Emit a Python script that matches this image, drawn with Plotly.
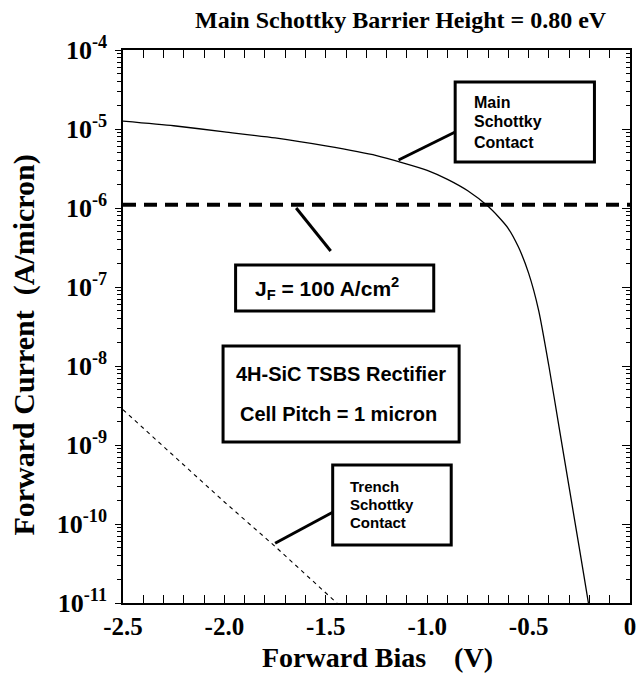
import plotly.graph_objects as go

# Forward I-V characteristics of the 4H-SiC TSBS rectifier cell
bias_main = [-2.5, -2.25, -2.0, -1.75, -1.5, -1.25, -1.0, -0.9, -0.8, -0.7, -0.65, -0.6,
             -0.55, -0.5, -0.45, -0.4, -0.35, -0.3, -0.25, -0.205, -0.19]
current_main = [1.26e-5, 1.1e-5, 9.2e-6, 7.7e-6, 6.1e-6, 4.6e-6, 3.0e-6, 2.3e-6,
                1.65e-6, 1.05e-6, 7.8e-7, 5.5e-7, 3.2e-7, 1.5e-7, 5.0e-8, 1.0e-8,
                1.7e-9, 2.9e-10, 5.0e-11, 1.0e-11, 6.0e-12]

bias_trench = [-2.5, -2.25, -2.0, -1.75, -1.5, -1.4]
current_trench = [2.8e-9, 7.4e-10, 1.9e-10, 5.2e-11, 1.35e-11, 7.8e-12]

# On-state current density level J_F = 100 A/cm^2
jf_level = 1.1e-6
bias_span = [-2.5, 0.0]

x_tickvals = [-2.5, -2.0, -1.5, -1.0, -0.5, 0.0]
x_ticktext = ["-2.5", "-2.0", "-1.5", "-1.0", "-0.5", "0"]
y_exponents = [-11, -10, -9, -8, -7, -6, -5, -4]

W, H = 640, 674
L, R, T, B = 122.7, 636.0, 50.0, 603.0

serif = "Liberation Serif"
sans = "Liberation Sans"

y_tickvals = [10.0 ** e for e in y_exponents]
y_ticktext = [f"10<sup>{e}</sup>" for e in y_exponents]
y_minor = [m * 10.0 ** e for e in y_exponents[:-1] for m in range(2, 10)]

fig = go.Figure()

fig.add_trace(go.Scatter(x=bias_main, y=current_main, mode="lines",
                         line=dict(color="black", width=1.3, shape="spline", smoothing=0.6),
                         showlegend=False, hoverinfo="skip"))
fig.add_trace(go.Scatter(x=bias_trench, y=current_trench, mode="lines",
                         line=dict(color="black", width=1.1, dash="4px,4px"),
                         showlegend=False, hoverinfo="skip"))
fig.add_trace(go.Scatter(x=bias_span, y=[jf_level, jf_level], mode="lines",
                         line=dict(color="black", width=4, dash="13px,8px"),
                         showlegend=False, hoverinfo="skip"))
# empty trace so the right-hand mirror axis is drawn
fig.add_trace(go.Scatter(x=[None], y=[None], yaxis="y2", showlegend=False,
                         hoverinfo="skip"))


def px_x(p):
    return (p - L) / (R - L)


def px_y(p):
    return (B - p) / (B - T)


def box(x0, y0, x1, y1):
    fig.add_shape(type="rect", xref="paper", yref="paper",
                  x0=px_x(x0), x1=px_x(x1), y0=px_y(y1), y1=px_y(y0),
                  line=dict(color="black", width=3), fillcolor="white", layer="above")


def pointer(x0, y0, x1, y1):
    fig.add_shape(type="line", xref="paper", yref="paper",
                  x0=px_x(x0), y0=px_y(y0), x1=px_x(x1), y1=px_y(y1),
                  line=dict(color="black", width=3), layer="above")


def text(x, y, s, size, anchor="left"):
    fig.add_annotation(xref="paper", yref="paper", x=px_x(x), y=px_y(y), text=s,
                       showarrow=False, xanchor=anchor, yanchor="middle",
                       font=dict(family=sans, size=size, color="black"))


# Main Schottky contact label
box(459, 82, 600, 162)
pointer(401.7, 160, 459, 132)
for s, yy in zip(["<b>Main</b>", "<b>Schottky</b>", "<b>Contact</b>"], [102, 122, 142]):
    text(476, yy, s, 16)

# J_F label
box(236.7, 265, 437.3, 311)
pointer(298, 208, 333, 251)
text(329, 288, "<b>J<sub>F</sub> = 100 A/cm<sup>2</sup></b>", 21, "center")

# Device description
box(224, 346, 463, 442)
text(343, 374, "<b>4H-SiC TSBS Rectifier</b>", 20, "center")
text(341, 414, "<b>Cell Pitch = 1 micron</b>", 20, "center")

# Trench Schottky contact label
box(335, 465, 455, 545)
pointer(276.7, 543.3, 335, 512.3)
for s, yy in zip(["<b>Trench</b>", "<b>Schottky</b>", "<b>Contact</b>"], [486, 504, 522]):
    text(351, yy, s, 15)

# Titles
fig.add_annotation(xref="paper", yref="paper", x=px_x(404), y=px_y(20),
                   text="<b>Main Schottky Barrier Height = 0.80 eV</b>", showarrow=False,
                   xanchor="center", yanchor="middle",
                   font=dict(family=serif, size=24, color="black"))
fig.add_annotation(xref="paper", yref="paper", x=px_x(380), y=px_y(674),
                   text="<b>Forward Bias\u00a0\u00a0\u00a0\u00a0(V)</b>", showarrow=False,
                   xanchor="center", yanchor="bottom", borderpad=0,
                   font=dict(family=serif, size=28, color="black"))
fig.add_annotation(xref="paper", yref="paper", x=px_x(22), y=px_y(345),
                   text="<b>Forward Current\u00a0\u00a0(A/micron)</b>", showarrow=False,
                   textangle=-90, xanchor="center", yanchor="middle",
                   font=dict(family=serif, size=30, color="black"))

tickfont = dict(family=serif, size=25, color="black")

fig.update_layout(
    width=W, height=H,
    margin=dict(l=L, r=W - R, t=T, b=H - B),
    paper_bgcolor="white", plot_bgcolor="white",
    xaxis=dict(range=[-2.5, 0.0], tickmode="array", tickvals=x_tickvals,
               ticktext=[f"<b>{t}</b>" for t in x_ticktext],
               ticks="inside", ticklen=8, tickwidth=1.3, tickcolor="black",
               minor=dict(dtick=0.1, tick0=0, ticks="inside", ticklen=4,
                          tickwidth=1.1, tickcolor="black", showgrid=False),
               showline=True, linewidth=1.5, linecolor="black", mirror="allticks",
               showgrid=False, zeroline=False, tickfont=tickfont, ticklabelstandoff=0,
               ticklabeloverflow="allow"),
    yaxis=dict(type="log", range=[-11, -4], tickmode="array", tickvals=y_tickvals,
               ticktext=[f"<b>{t}</b>" for t in y_ticktext],
               ticks="outside", ticklen=6, tickwidth=1.3, tickcolor="black",
               minor=dict(tickmode="array", tickvals=y_minor, ticks="outside",
                          ticklen=4, tickwidth=1.1, tickcolor="black", showgrid=False),
               showline=True, linewidth=1.5, linecolor="black", mirror=True,
               showgrid=False, zeroline=False, tickfont=dict(family=serif, size=26, color="black"),
               ticklabelstandoff=3, ticklabeloverflow="allow"),
    yaxis2=dict(type="log", range=[-11, -4], overlaying="y", side="right", anchor="x",
                tickmode="array", tickvals=y_tickvals, showticklabels=False,
                ticks="inside", ticklen=8, tickwidth=1.3, tickcolor="black",
                minor=dict(tickmode="array", tickvals=y_minor, ticks="inside",
                           ticklen=4, tickwidth=1.1, tickcolor="black", showgrid=False),
                showline=False, showgrid=False, zeroline=False),
)

fig.write_html("out.html")
